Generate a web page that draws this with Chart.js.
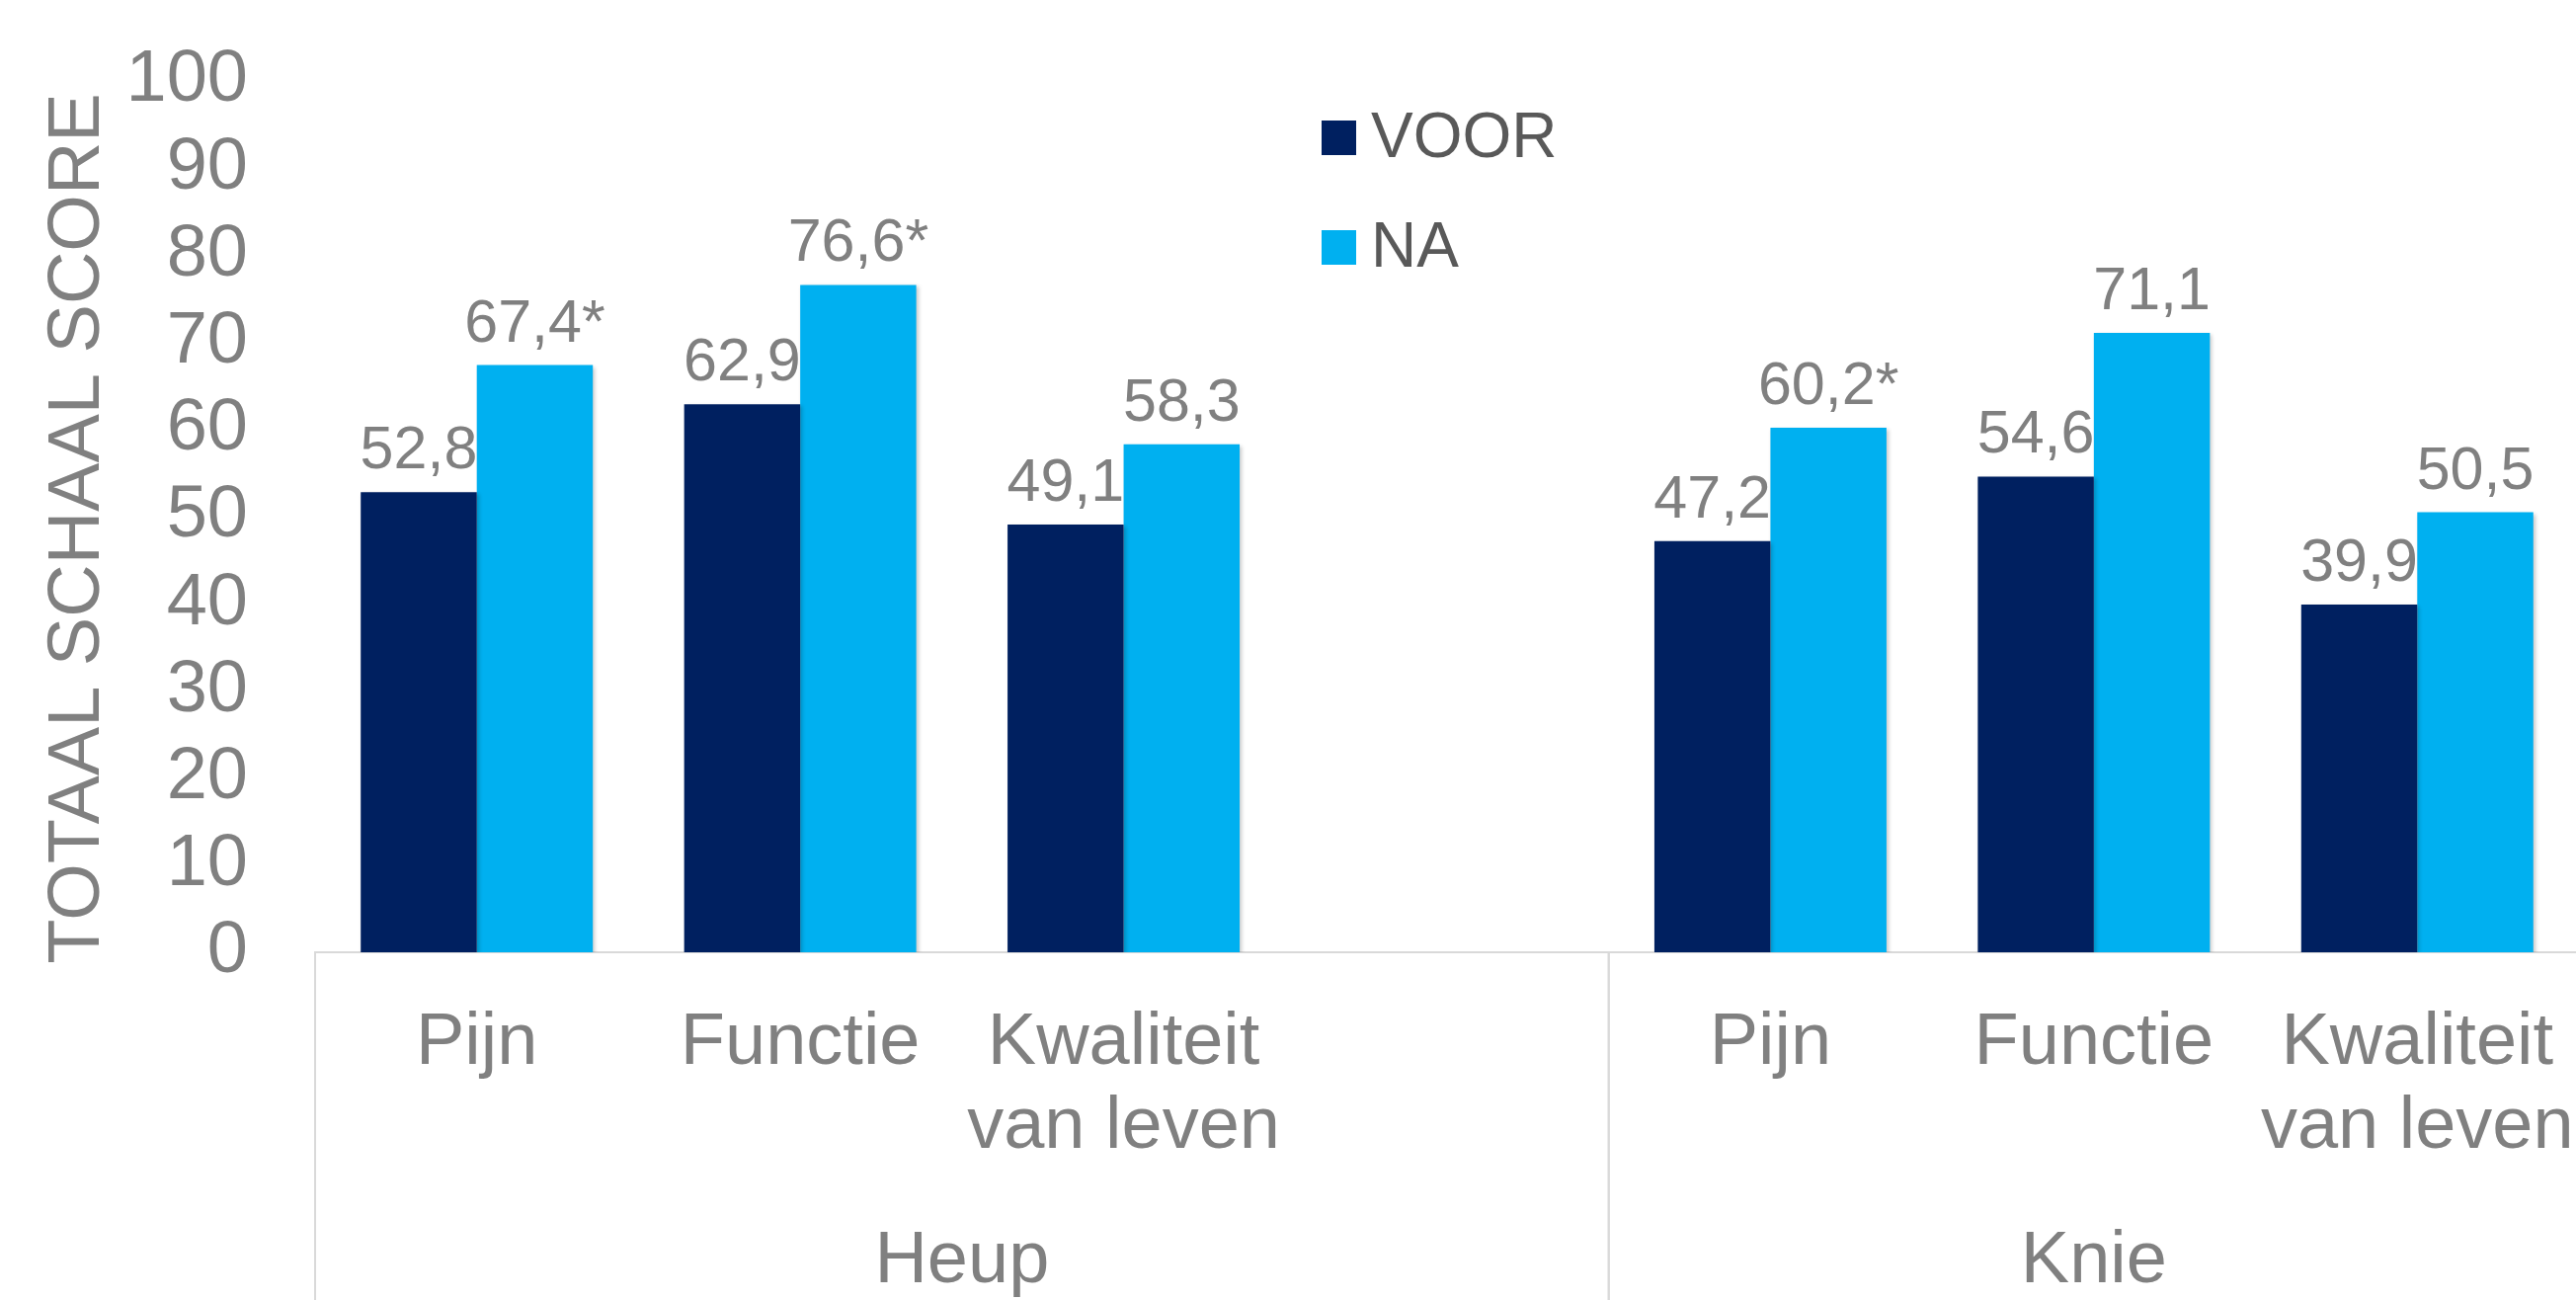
<!DOCTYPE html>
<html>
<head>
<meta charset="utf-8">
<script src="https://cdn.jsdelivr.net/npm/chart.js@4.4.1/dist/chart.umd.min.js"></script>
<style>
  html, body { margin: 0; padding: 0; overflow: hidden; background: #ffffff; }
  #wrap { position: relative; width: 2611px; height: 1340px; }
</style>
</head>
<body>
<div id="wrap"><canvas id="chart"></canvas></div>
<script>
// Categories (the empty one is the gap after the Heup group)
const categories = ['Pijn', 'Functie', ['Kwaliteit', 'van leven'], '', 'Pijn', 'Functie', ['Kwaliteit', 'van leven']];
const groups = ['Heup', 'Knie'];
const groupSizes = [4, 3];

// Series values
const voorValues = [52.8, 62.9, 49.1, null, 47.2, 54.6, 39.9];
const naValues = [67.4, 76.6, 58.3, null, 60.2, 71.1, 50.5];
const naSignificant = [true, true, false, false, true, false, false];

// Value axis
const yMin = 0;
const yMax = 100;
const yStep = 10;
const yTitle = 'TOTAAL SCHAAL SCORE';

const FONT = "'Liberation Sans', Arial, sans-serif";
const GREY = '#808080';
const LINE = '#d9d9d9';

function fmt(v) {
    return v.toFixed(1).replace('.', ',');
}

// Soft shadow behind the bars
const barShadow = {
    id: 'barShadow',
    beforeDatasetsDraw(chart) {
        const ctx = chart.ctx;
        ctx.save();
        ctx.shadowColor = 'rgba(0,0,0,0.22)';
        ctx.shadowBlur = 4;
        ctx.shadowOffsetX = 2;
        ctx.shadowOffsetY = 2;
    },
    afterDatasetsDraw(chart) {
        chart.ctx.restore();
    }
};

// Value labels above the bars
const valueLabels = {
    id: 'valueLabels',
    afterDatasetsDraw(chart) {
        const ctx = chart.ctx;
        ctx.save();
        ctx.font = '61px ' + FONT;
        ctx.fillStyle = GREY;
        ctx.textAlign = 'center';
        ctx.textBaseline = 'alphabetic';
        chart.data.datasets.forEach((ds, i) => {
            const meta = chart.getDatasetMeta(i);
            meta.data.forEach((bar, j) => {
                const v = ds.data[j];
                if (v == null) return;
                let txt = fmt(v);
                if (ds.marks && ds.marks[j]) txt += '*';
                ctx.fillText(txt, bar.x, bar.y - 24);
            });
        });
        ctx.restore();
    }
};

// Rotated axis title, a bit lower than the plot centre like the original
const axisTitle = {
    id: 'axisTitle',
    afterDraw(chart) {
        const ctx = chart.ctx;
        const area = chart.chartArea;
        ctx.save();
        ctx.translate(80, (area.top + area.bottom) / 2 + 12);
        ctx.rotate(-Math.PI / 2);
        ctx.font = '74px ' + FONT;
        ctx.fillStyle = GREY;
        ctx.textAlign = 'center';
        ctx.textBaseline = 'middle';
        ctx.fillText(yTitle, 0, 0);
        ctx.restore();
    }
};

// Group separators and group names under the category labels
const groupAxis = {
    id: 'groupAxis',
    afterDraw(chart) {
        const ctx = chart.ctx;
        const x = chart.scales.x;
        const step = x.getPixelForValue(1) - x.getPixelForValue(0);
        ctx.save();
        ctx.strokeStyle = LINE;
        ctx.lineWidth = 2;
        ctx.font = '74px ' + FONT;
        ctx.fillStyle = GREY;
        ctx.textAlign = 'center';
        ctx.textBaseline = 'alphabetic';
        let start = 0;
        groups.forEach((g, gi) => {
            const left = x.getPixelForValue(start) - step / 2;
            const right = x.getPixelForValue(start + groupSizes[gi] - 1) + step / 2;
            [left, right].forEach(px => {
                ctx.beginPath();
                ctx.moveTo(px, x.top);
                ctx.lineTo(px, chart.height);
                ctx.stroke();
            });
            ctx.fillText(g, (left + right) / 2, x.top + 334);
            start += groupSizes[gi];
        });
        ctx.restore();
    }
};

// Legend placed inside the plot like the original
const floatLegend = {
    id: 'floatLegend',
    afterDraw(chart) {
        const ctx = chart.ctx;
        ctx.save();
        ctx.font = '64px ' + FONT;
        ctx.textBaseline = 'alphabetic';
        ctx.textAlign = 'left';
        chart.data.datasets.forEach((ds, i) => {
            const top = 122 + i * 111;
            ctx.fillStyle = ds.backgroundColor;
            ctx.fillRect(1338, top, 35, 35);
            ctx.fillStyle = '#595959';
            ctx.fillText(ds.label, 1388, top + 36.5);
        });
        ctx.restore();
    }
};

new Chart(document.getElementById('chart'), {
    type: 'bar',
    data: {
        labels: categories,
        datasets: [
            {
                label: 'VOOR',
                data: voorValues,
                backgroundColor: '#002060',
                categoryPercentage: 0.7176,
                barPercentage: 1
            },
            {
                label: 'NA',
                data: naValues,
                marks: naSignificant,
                backgroundColor: '#00B0F0',
                categoryPercentage: 0.7176,
                barPercentage: 1
            }
        ]
    },
    options: {
        responsive: true,
        maintainAspectRatio: false,
        animation: false,
        layout: { padding: { top: 82, left: 0, right: 0, bottom: 0 } },
        plugins: {
            legend: { display: false },
            tooltip: { enabled: false }
        },
        scales: {
            x: {
                grid: { display: true, drawOnChartArea: false, drawTicks: false },
                border: { display: true, color: LINE, width: 2 },
                ticks: {
                    color: GREY,
                    font: { family: FONT, size: 74, lineHeight: 1.15 },
                    padding: 50,
                    autoSkip: false,
                    maxRotation: 0,
                    minRotation: 0
                },
                afterFit(scale) {
                    scale.height = 1340 - 964;
                    scale.paddingLeft = 0;
                    scale.paddingRight = 0;
                }
            },
            y: {
                min: yMin,
                max: yMax,
                grid: { display: false },
                border: { display: false },
                ticks: {
                    stepSize: yStep,
                    autoSkip: false,
                    color: GREY,
                    font: { family: FONT, size: 74 },
                    padding: 60
                },
                afterFit(scale) {
                    scale.width = 319;
                    scale.paddingTop = 0;
                    scale.paddingBottom = 0;
                }
            }
        }
    },
    plugins: [barShadow, valueLabels, axisTitle, groupAxis, floatLegend]
});
</script>
</body>
</html>
